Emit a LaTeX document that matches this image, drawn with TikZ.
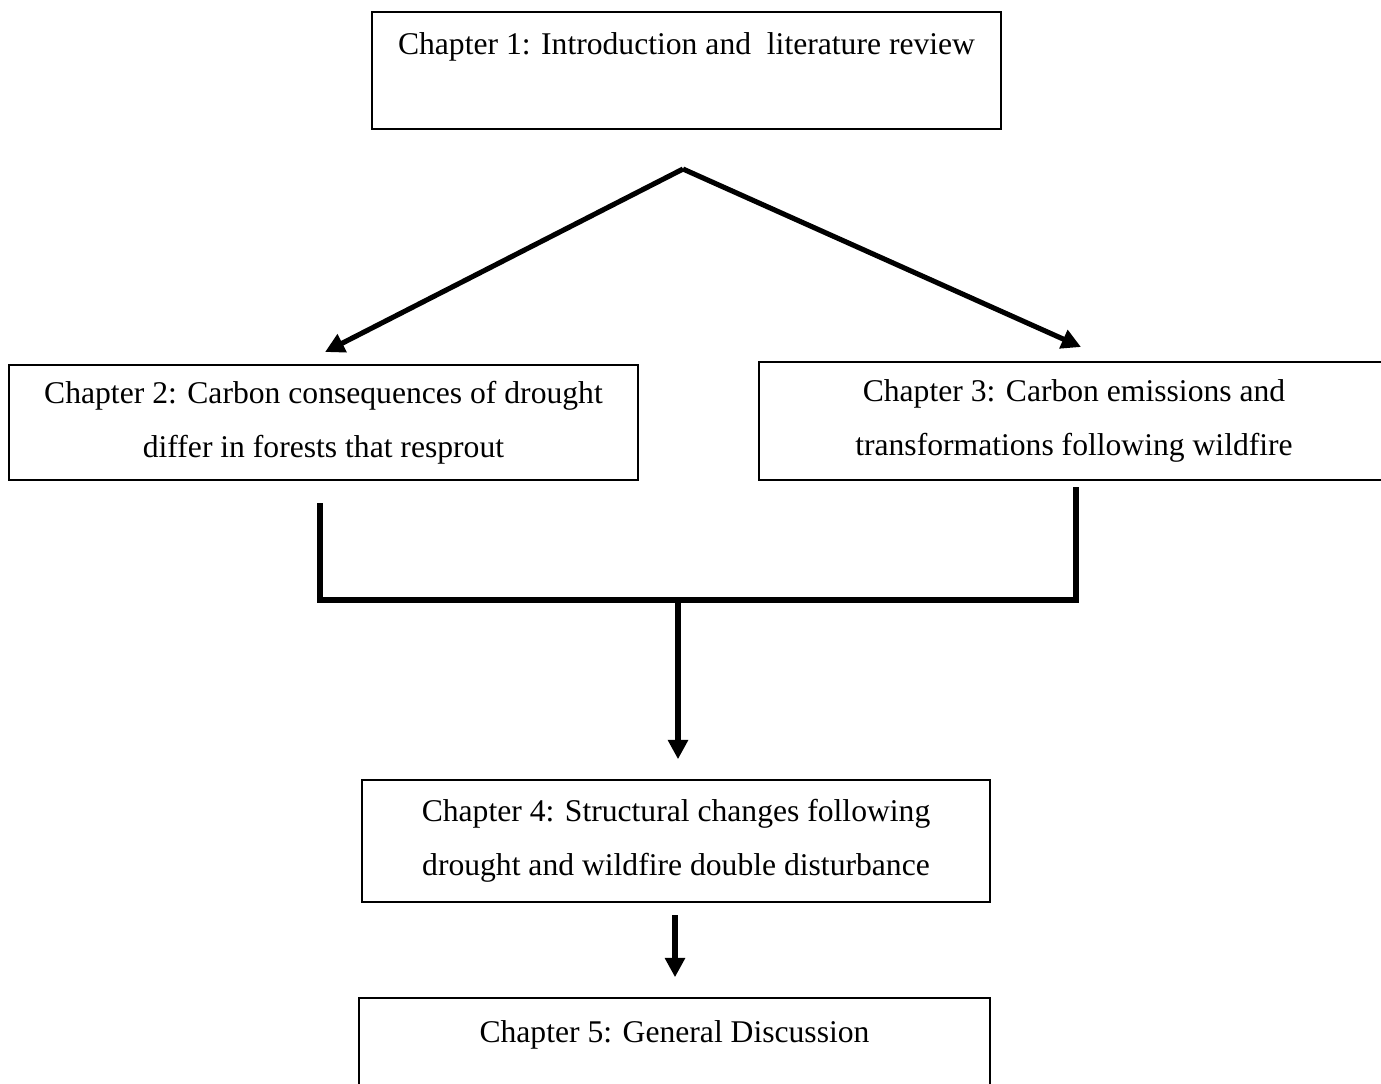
\documentclass[tikz,border=0pt]{standalone}
\usepackage{fontspec}
\setmainfont{Liberation Serif}
\usetikzlibrary{arrows.meta}

\begin{document}
\begin{tikzpicture}[
  x=0.02cm, y=-0.02cm,
  >={Triangle[length=11pt,width=11pt]},
  every node/.style={font=\fontsize{18}{31}\selectfont},
  chapter box/.style={draw,line width=0.9pt,align=center,inner sep=0pt,
    minimum width=12.58cm,minimum height=2.34cm},
  flow line/.style={line width=2.9pt}
]
\useasboundingbox (0,0) rectangle (1381,1083);

% chapters
\node[chapter box] (ch1) at (686.5,70.5) {Chapter 1: Introduction and\ \ literature review\\ \mbox{}};
\node[chapter box,minimum height=2.3cm] (ch2) at (323.5,422.5) {Chapter 2: Carbon consequences of drought\\ differ in forests that resprout};
\node[chapter box,minimum width=12.6cm,minimum height=2.36cm] (ch3) at (1074,421) {Chapter 3: Carbon emissions and\\ transformations following wildfire};
\node[chapter box,minimum width=12.56cm,minimum height=2.44cm] (ch4) at (676,841) {Chapter 4: Structural changes following\\ drought and wildfire double disturbance};
\node[chapter box,minimum width=12.62cm,minimum height=2.42cm] (ch5) at (674.5,1058.5) {Chapter 5: General Discussion\\ \mbox{}};

% connectors
\coordinate (split) at (683,169);
\coordinate (tipL) at (325,352);
\coordinate (tipR) at (1081,347);
\coordinate (brL) at (320,503);
\coordinate (brR) at (1076,487);
\coordinate (join) at (678,600);
\coordinate (drop) at (675,902);

\draw[flow line,->] (split) -- (tipL);
\draw[flow line,->] (split) -- (tipR);
\draw[flow line] (brL) |- (join) -| (brR);
\draw[flow line,->,shorten >=0.4cm] (join) -- (join |- ch4.north);
\draw[flow line,->,shorten <=0.26cm,shorten >=0.4cm] (drop) -- (drop |- ch5.north);
\end{tikzpicture}
\end{document}
